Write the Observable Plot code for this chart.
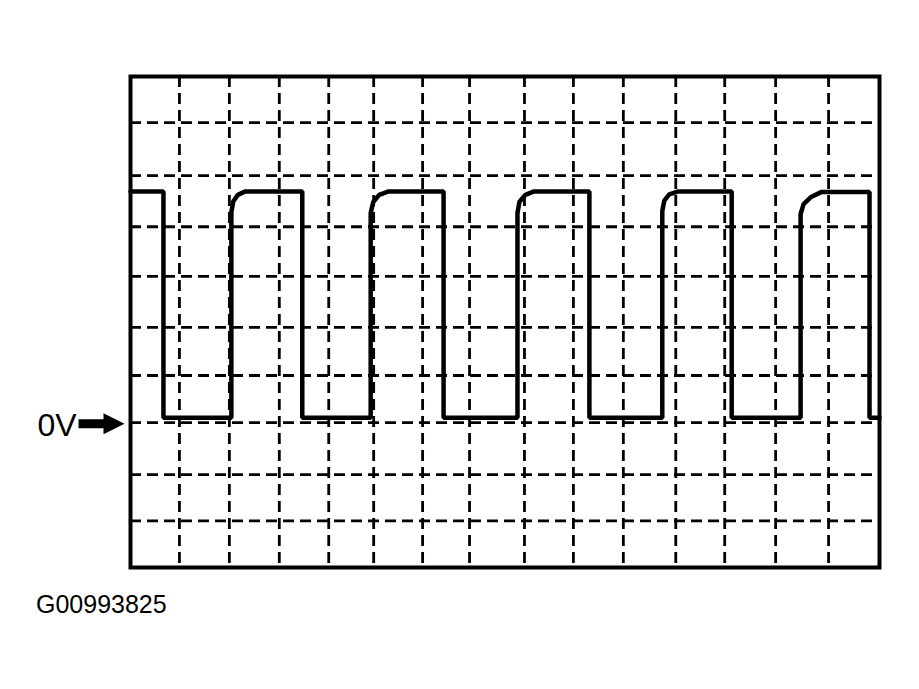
<!DOCTYPE html>
<html>
<head>
<meta charset="utf-8">
<script src="https://cdn.jsdelivr.net/npm/d3@7"></script>
<script src="https://cdn.jsdelivr.net/npm/@observablehq/plot@0.6"></script>
<style>
  html, body { margin: 0; padding: 0; background: #fff; }
  #chart svg { display: block; }
  #caption {
    font-family: "Liberation Sans", Arial, sans-serif;
    font-size: 25px;
    line-height: 25px;
    margin: 7px 0 0 36px;
    color: #000;
  }
</style>
</head>
<body>
<div id="chart"></div>
<div id="caption">G00993825</div>
<script>
// Oscilloscope graticule: time in divisions (0–15), voltage in divisions (-3–7)
const timeDomain = [0, 15];
const voltDomain = [-3, 7];
const gridTimes = [0.98, 1.98, 2.98, 3.97, 4.87, 5.85, 6.79, 7.89, 8.87, 9.87, 10.92, 11.90, 12.92, 13.98];
const gridVolts = [6.06, 4.98, 3.94, 2.93, 1.89, 0.91, -0.05, -1.11, -2.05];

// Square-wave trace vertices (time div, volt div)
const traceTime = [
  0, 0.66, 0.66,
  2.02, 2.02, 2.06, 2.15, 2.30, 3.44, 3.44,
  4.81, 4.81, 4.86, 4.98, 5.17, 6.27, 6.27,
  7.75, 7.75, 7.79, 7.91, 8.08, 9.19, 9.19,
  10.65, 10.65, 10.69, 10.79, 10.97, 12.04, 12.04,
  13.42, 13.42, 13.48, 13.62, 13.84, 14.80, 14.80,
  15
];
const traceVolt = [
  4.66, 4.66, 0.05,
  0.05, 4.24, 4.46, 4.59, 4.66, 4.66, 0.05,
  0.05, 4.22, 4.44, 4.59, 4.66, 4.66, 0.05,
  0.05, 4.22, 4.45, 4.59, 4.66, 4.66, 0.05,
  0.05, 4.26, 4.47, 4.60, 4.66, 4.66, 0.05,
  0.05, 4.20, 4.40, 4.54, 4.65, 4.65, 0.05,
  0.05
];

const zeroMarker = [{label: "0V", volt: -0.05}];

const trace = traceTime.map((t, i) => ({t, v: traceVolt[i]}));

// filled arrow symbol (tip at origin, pointing right)
const arrowSymbol = {
  draw(context) {
    context.moveTo(-46, -4.5);
    context.lineTo(-21, -4.5);
    context.lineTo(-21, -10.5);
    context.lineTo(0, 0);
    context.lineTo(-21, 10.5);
    context.lineTo(-21, 4.5);
    context.lineTo(-46, 4.5);
    context.closePath();
  }
};

const chart = Plot.plot({
  width: 919,
  height: 585,
  marginLeft: 130,
  marginRight: 40,
  marginTop: 76,
  marginBottom: 18,
  style: {background: "#fff", overflow: "visible"},
  x: {domain: timeDomain, axis: null},
  y: {domain: voltDomain, axis: null},
  marks: [
    Plot.ruleX(gridTimes, {x: d => d, stroke: "#000", strokeWidth: 2.8, strokeDasharray: "11,6"}),
    Plot.ruleY(gridVolts, {y: d => d, stroke: "#000", strokeWidth: 2.8, strokeDasharray: "11,6"}),
    Plot.line(trace, {x: "t", y: "v", stroke: "#000", strokeWidth: 4.5, strokeLinejoin: "miter", curve: "linear"}),
    Plot.frame({stroke: "#000", strokeWidth: 4}),
    Plot.text(zeroMarker, {
      y: "volt", text: "label", frameAnchor: "left", dx: -93, dy: 3,
      textAnchor: "start", fontSize: 32, fill: "#000",
      fontFamily: "Liberation Sans, Arial, sans-serif"
    }),
    Plot.dot(zeroMarker, {
      y: "volt", frameAnchor: "left", dx: -6, dy: 1, r: 10,
      symbol: arrowSymbol, fill: "#000", stroke: "none"
    })
  ]
});
document.getElementById("chart").appendChild(chart);
</script>
</body>
</html>
